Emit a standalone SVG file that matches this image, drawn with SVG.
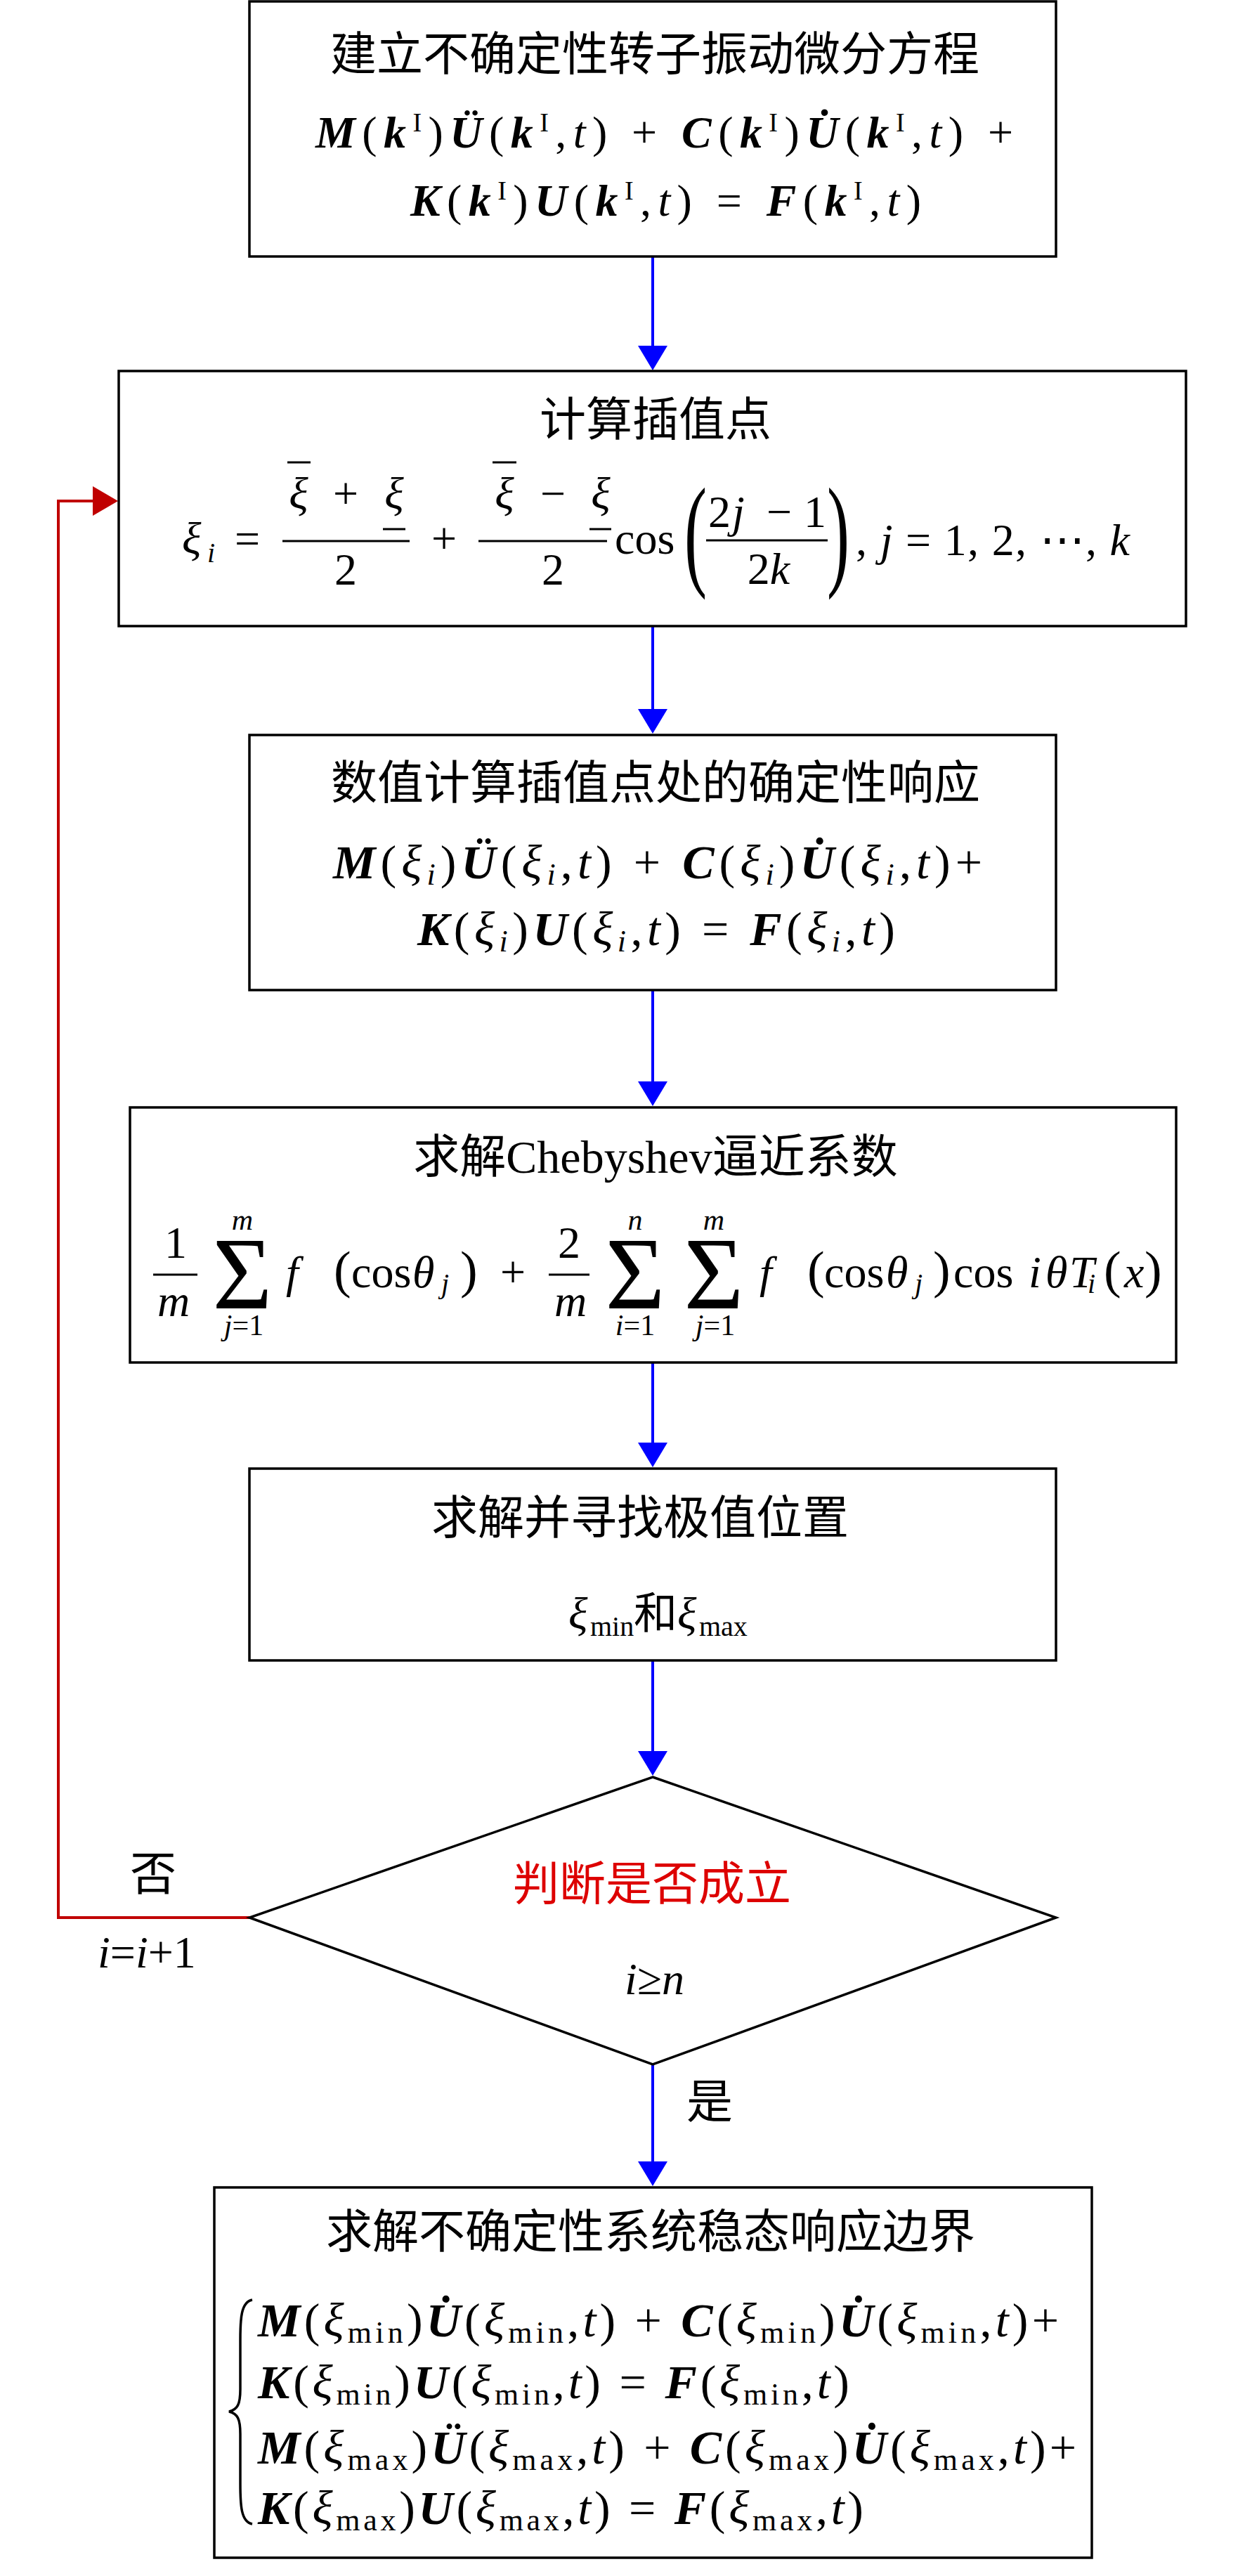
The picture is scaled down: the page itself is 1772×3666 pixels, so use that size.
<svg xmlns="http://www.w3.org/2000/svg" width="1772" height="3666" viewBox="0 0 1772 3666">
<style>
.box{fill:#fff;stroke:#000;stroke-width:3.5}
.t{font-family:"Liberation Serif","Noto Sans CJK SC",serif;font-size:66px;fill:#000}
.m{font-family:"Liberation Serif","DejaVu Serif",serif;font-size:64px;fill:#000}
.eq{font-family:"Liberation Serif","DejaVu Serif",serif;fill:#000}
.bi{font-weight:bold;font-style:italic}
.i{font-style:italic}
.bar{stroke:#000;stroke-width:3}
.cb{fill:none;stroke:#0000FF;stroke-width:4}
.cr{fill:none;stroke:#C00000;stroke-width:4}
.red{fill:#DD0000}
.c{text-anchor:middle}
</style>
<defs>
<marker id="ab" markerUnits="userSpaceOnUse" markerWidth="36" markerHeight="42" refX="31" refY="21" orient="auto"><path d="M0,0 L35,21 L0,42 z" fill="#0000FF"/></marker>
<marker id="ar" markerUnits="userSpaceOnUse" markerWidth="36" markerHeight="42" refX="31" refY="21" orient="auto"><path d="M0,0 L36,21 L0,42 z" fill="#C00000"/></marker>
</defs>
<rect width="1772" height="3666" fill="#fff"/>

<g id="connectors">
<line class="cb" x1="929" y1="365" x2="929" y2="523" marker-end="url(#ab)"/>
<line class="cb" x1="929" y1="891" x2="929" y2="1040" marker-end="url(#ab)"/>
<line class="cb" x1="929" y1="1409" x2="929" y2="1570" marker-end="url(#ab)"/>
<line class="cb" x1="929" y1="1939" x2="929" y2="2084" marker-end="url(#ab)"/>
<line class="cb" x1="929" y1="2363" x2="929" y2="2523" marker-end="url(#ab)"/>
<line class="cb" x1="929" y1="2938" x2="929" y2="3107" marker-end="url(#ab)"/>
<path class="cr" d="M355,2729 H83 V713 H163" marker-end="url(#ar)"/>
<text class="t c" x="218" y="2690">否</text>
<text class="m" x="139" y="2800"><tspan class="i">i</tspan>=<tspan class="i">i</tspan>+1</text>
<text class="t" x="977" y="3014">是</text>
</g>

<g id="node1">
<rect class="box" x="355" y="2" width="1148" height="363"/>
<text class="t c" x="932" y="100">建立不确定性转子振动微分方程</text>
<text class="eq" style="font-size:64px" x="449" y="210" textLength="993"><tspan class="bi">M</tspan>(<tspan class="bi">k</tspan><tspan style="font-size:38px" dy="-23">I</tspan><tspan dy="23">)</tspan><tspan class="bi">Ü</tspan>(<tspan class="bi">k</tspan><tspan style="font-size:38px" dy="-23">I</tspan><tspan dy="23">,</tspan><tspan class="i">t</tspan>) + <tspan class="bi">C</tspan>(<tspan class="bi">k</tspan><tspan style="font-size:38px" dy="-23">I</tspan><tspan dy="23">)</tspan><tspan class="bi">U&#x307;</tspan>(<tspan class="bi">k</tspan><tspan style="font-size:38px" dy="-23">I</tspan><tspan dy="23">,</tspan><tspan class="i">t</tspan>) +</text>
<text class="eq" style="font-size:64px" x="584" y="307" textLength="727"><tspan class="bi">K</tspan>(<tspan class="bi">k</tspan><tspan style="font-size:38px" dy="-23">I</tspan><tspan dy="23">)</tspan><tspan class="bi">U</tspan>(<tspan class="bi">k</tspan><tspan style="font-size:38px" dy="-23">I</tspan><tspan dy="23">,</tspan><tspan class="i">t</tspan>) = <tspan class="bi">F</tspan>(<tspan class="bi">k</tspan><tspan style="font-size:38px" dy="-23">I</tspan><tspan dy="23">,</tspan><tspan class="i">t</tspan>)</text>
</g>

<g id="node2">
<rect class="box" x="169" y="528" width="1519" height="363"/>
<text class="t c" x="933" y="620">计算插值点</text>
<text class="m" y="788"><tspan class="i" x="259">ξ</tspan><tspan class="i" style="font-size:40px" x="295" dy="12">i</tspan></text>
<text class="m c" x="352" y="788">=</text>
<text class="m c i" x="425" y="724">ξ</text>
<text class="m c" x="492" y="724">+</text>
<text class="m c i" x="561" y="724">ξ</text>
<line class="bar" x1="409" y1="658" x2="442" y2="658"/>
<line class="bar" x1="545" y1="753" x2="577" y2="753"/>
<line class="bar" x1="402" y1="770" x2="583" y2="770"/>
<text class="m c" x="492" y="832">2</text>
<text class="m c" x="632" y="788">+</text>
<text class="m c i" x="718" y="724">ξ</text>
<text class="m c" x="787" y="724">−</text>
<text class="m c i" x="855" y="724">ξ</text>
<line class="bar" x1="701" y1="658" x2="735" y2="658"/>
<line class="bar" x1="839" y1="753" x2="870" y2="753"/>
<line class="bar" x1="681" y1="770" x2="864" y2="770"/>
<text class="m c" x="787" y="832">2</text>
<text class="m" x="875" y="788">cos</text>
<text class="m c" style="font-size:175px" transform="translate(990,816) scale(0.55,1)">(</text>
<text class="m" x="1008" y="750">2</text>
<text class="m i" x="1042" y="750">j</text>
<text class="m c" x="1109" y="750">−</text>
<text class="m c" x="1160" y="750">1</text>
<line class="bar" x1="1005" y1="769" x2="1178" y2="769"/>
<text class="m c" x="1094" y="831">2<tspan class="i">k</tspan></text>
<text class="m c" style="font-size:175px" transform="translate(1193,816) scale(0.55,1)">)</text>
<text class="m" x="1218" y="790" textLength="390">, <tspan class="i">j</tspan> = 1, 2, ⋯, <tspan class="i">k</tspan></text>
</g>

<g id="node3">
<rect class="box" x="355" y="1046" width="1148" height="363"/>
<text class="t c" x="933" y="1137">数值计算插值点处的确定性响应</text>
<text class="eq" style="font-size:68px" x="474" y="1250" textLength="924"><tspan class="bi">M</tspan>(<tspan class="i">ξ</tspan><tspan class="i" style="font-size:44px" dy="9">i</tspan><tspan dy="-9">)</tspan><tspan class="bi">Ü</tspan>(<tspan class="i">ξ</tspan><tspan class="i" style="font-size:44px" dy="9">i</tspan><tspan dy="-9">,</tspan><tspan class="i">t</tspan>) + <tspan class="bi">C</tspan>(<tspan class="i">ξ</tspan><tspan class="i" style="font-size:44px" dy="9">i</tspan><tspan dy="-9">)</tspan><tspan class="bi">U&#x307;</tspan>(<tspan class="i">ξ</tspan><tspan class="i" style="font-size:44px" dy="9">i</tspan><tspan dy="-9">,</tspan><tspan class="i">t</tspan>)+</text>
<text class="eq" style="font-size:68px" x="594" y="1345" textLength="680"><tspan class="bi">K</tspan>(<tspan class="i">ξ</tspan><tspan class="i" style="font-size:44px" dy="9">i</tspan><tspan dy="-9">)</tspan><tspan class="bi">U</tspan>(<tspan class="i">ξ</tspan><tspan class="i" style="font-size:44px" dy="9">i</tspan><tspan dy="-9">,</tspan><tspan class="i">t</tspan>) = <tspan class="bi">F</tspan>(<tspan class="i">ξ</tspan><tspan class="i" style="font-size:44px" dy="9">i</tspan><tspan dy="-9">,</tspan><tspan class="i">t</tspan>)</text>
</g>

<g id="node4">
<rect class="box" x="185" y="1576" width="1489" height="363"/>
<text class="t c" x="933" y="1669">求解Chebyshev逼近系数</text>
<text class="m c" x="250" y="1790">1</text>
<line class="bar" x1="218" y1="1814" x2="281" y2="1814"/>
<text class="m c i" x="247" y="1873">m</text>
<text class="m c" x="345" y="1862" style="font-size:146px">Σ</text>
<text class="m c i" x="345" y="1750" style="font-size:42px">m</text>
<text class="m c" x="347" y="1900" style="font-size:42px"><tspan class="i">j</tspan>=1</text>
<text class="m" y="1832"><tspan class="i" x="407">f</tspan><tspan x="475" style="font-size:74px">(</tspan><tspan x="500">cos</tspan><tspan class="i" x="587">θ</tspan><tspan class="i" style="font-size:40px" x="628" dy="8">j</tspan><tspan x="655" style="font-size:74px" dy="-8">)</tspan></text>
<text class="m c" x="730" y="1832">+</text>
<text class="m c" x="810" y="1790">2</text>
<line class="bar" x1="781" y1="1814" x2="839" y2="1814"/>
<text class="m c i" x="812" y="1873">m</text>
<text class="m c" x="904" y="1862" style="font-size:146px">Σ</text>
<text class="m c i" x="904" y="1750" style="font-size:42px">n</text>
<text class="m c" x="904" y="1900" style="font-size:42px"><tspan class="i">i</tspan>=1</text>
<text class="m c" x="1016" y="1862" style="font-size:146px">Σ</text>
<text class="m c i" x="1016" y="1750" style="font-size:42px">m</text>
<text class="m c" x="1018" y="1900" style="font-size:42px"><tspan class="i">j</tspan>=1</text>
<text class="m" y="1832"><tspan class="i" x="1081">f</tspan><tspan x="1149" style="font-size:74px">(</tspan><tspan x="1173">cos</tspan><tspan class="i" x="1261">θ</tspan><tspan class="i" style="font-size:40px" x="1302" dy="8">j</tspan><tspan x="1328" style="font-size:74px" dy="-8">)</tspan><tspan x="1357">cos</tspan><tspan class="i" x="1464">i</tspan><tspan class="i" x="1488">θ</tspan><tspan class="i" x="1522">T</tspan><tspan class="i" style="font-size:40px" x="1548" dy="8">i</tspan><tspan x="1571" style="font-size:74px" dy="-8">(</tspan><tspan class="i" x="1600">x</tspan><tspan x="1629" style="font-size:74px">)</tspan></text>
</g>

<g id="node5">
<rect class="box" x="355" y="2090" width="1148" height="273"/>
<text class="t c" x="911" y="2183">求解并寻找极值位置</text>
<text class="m" y="2318"><tspan class="i" x="809">ξ</tspan><tspan x="840" style="font-size:40px" dy="10">min</tspan><tspan x="902" dy="-10" style="font-family:'Noto Sans CJK SC',sans-serif;font-size:62px">和</tspan><tspan class="i" x="964">ξ</tspan><tspan x="995" style="font-size:40px" dy="10">max</tspan></text>
</g>

<g id="node6">
<polygon class="box" points="929,2529 1503,2729 929,2938 355,2729"/>
<text class="t c red" x="928" y="2704">判断是否成立</text>
<text class="m" x="889" y="2838"><tspan class="i">i</tspan>≥<tspan class="i">n</tspan></text>
</g>

<g id="node7">
<rect class="box" x="305" y="3113" width="1249" height="527"/>
<text class="t c" x="926" y="3199">求解不确定性系统稳态响应边界</text>
<path d="M359,3273 C343,3276 342,3300 342,3330 L342,3400 C342,3422 338,3429 326,3432 C338,3435 342,3442 342,3464 L342,3535 C342,3565 343,3589 359,3592" fill="none" stroke="#000" stroke-width="3.5"/>
<text class="eq" style="font-size:68px" x="367" y="3325" textLength="1140"><tspan class="bi">M</tspan>(<tspan class="i">ξ</tspan><tspan style="font-size:44px" dy="9">min</tspan><tspan dy="-9">)</tspan><tspan class="bi">U&#x307;</tspan>(<tspan class="i">ξ</tspan><tspan style="font-size:44px" dy="9">min</tspan><tspan dy="-9">,</tspan><tspan class="i">t</tspan>) + <tspan class="bi">C</tspan>(<tspan class="i">ξ</tspan><tspan style="font-size:44px" dy="9">min</tspan><tspan dy="-9">)</tspan><tspan class="bi">U&#x307;</tspan>(<tspan class="i">ξ</tspan><tspan style="font-size:44px" dy="9">min</tspan><tspan dy="-9">,</tspan><tspan class="i">t</tspan>)+</text>
<text class="eq" style="font-size:68px" x="367" y="3413" textLength="842"><tspan class="bi">K</tspan>(<tspan class="i">ξ</tspan><tspan style="font-size:44px" dy="9">min</tspan><tspan dy="-9">)</tspan><tspan class="bi">U</tspan>(<tspan class="i">ξ</tspan><tspan style="font-size:44px" dy="9">min</tspan><tspan dy="-9">,</tspan><tspan class="i">t</tspan>) = <tspan class="bi">F</tspan>(<tspan class="i">ξ</tspan><tspan style="font-size:44px" dy="9">min</tspan><tspan dy="-9">,</tspan><tspan class="i">t</tspan>)</text>
<text class="eq" style="font-size:68px" x="367" y="3506" textLength="1165"><tspan class="bi">M</tspan>(<tspan class="i">ξ</tspan><tspan style="font-size:44px" dy="9">max</tspan><tspan dy="-9">)</tspan><tspan class="bi">Ü</tspan>(<tspan class="i">ξ</tspan><tspan style="font-size:44px" dy="9">max</tspan><tspan dy="-9">,</tspan><tspan class="i">t</tspan>) + <tspan class="bi">C</tspan>(<tspan class="i">ξ</tspan><tspan style="font-size:44px" dy="9">max</tspan><tspan dy="-9">)</tspan><tspan class="bi">U&#x307;</tspan>(<tspan class="i">ξ</tspan><tspan style="font-size:44px" dy="9">max</tspan><tspan dy="-9">,</tspan><tspan class="i">t</tspan>)+</text>
<text class="eq" style="font-size:68px" x="367" y="3592" textLength="862"><tspan class="bi">K</tspan>(<tspan class="i">ξ</tspan><tspan style="font-size:44px" dy="9">max</tspan><tspan dy="-9">)</tspan><tspan class="bi">U</tspan>(<tspan class="i">ξ</tspan><tspan style="font-size:44px" dy="9">max</tspan><tspan dy="-9">,</tspan><tspan class="i">t</tspan>) = <tspan class="bi">F</tspan>(<tspan class="i">ξ</tspan><tspan style="font-size:44px" dy="9">max</tspan><tspan dy="-9">,</tspan><tspan class="i">t</tspan>)</text>
</g>
</svg>
